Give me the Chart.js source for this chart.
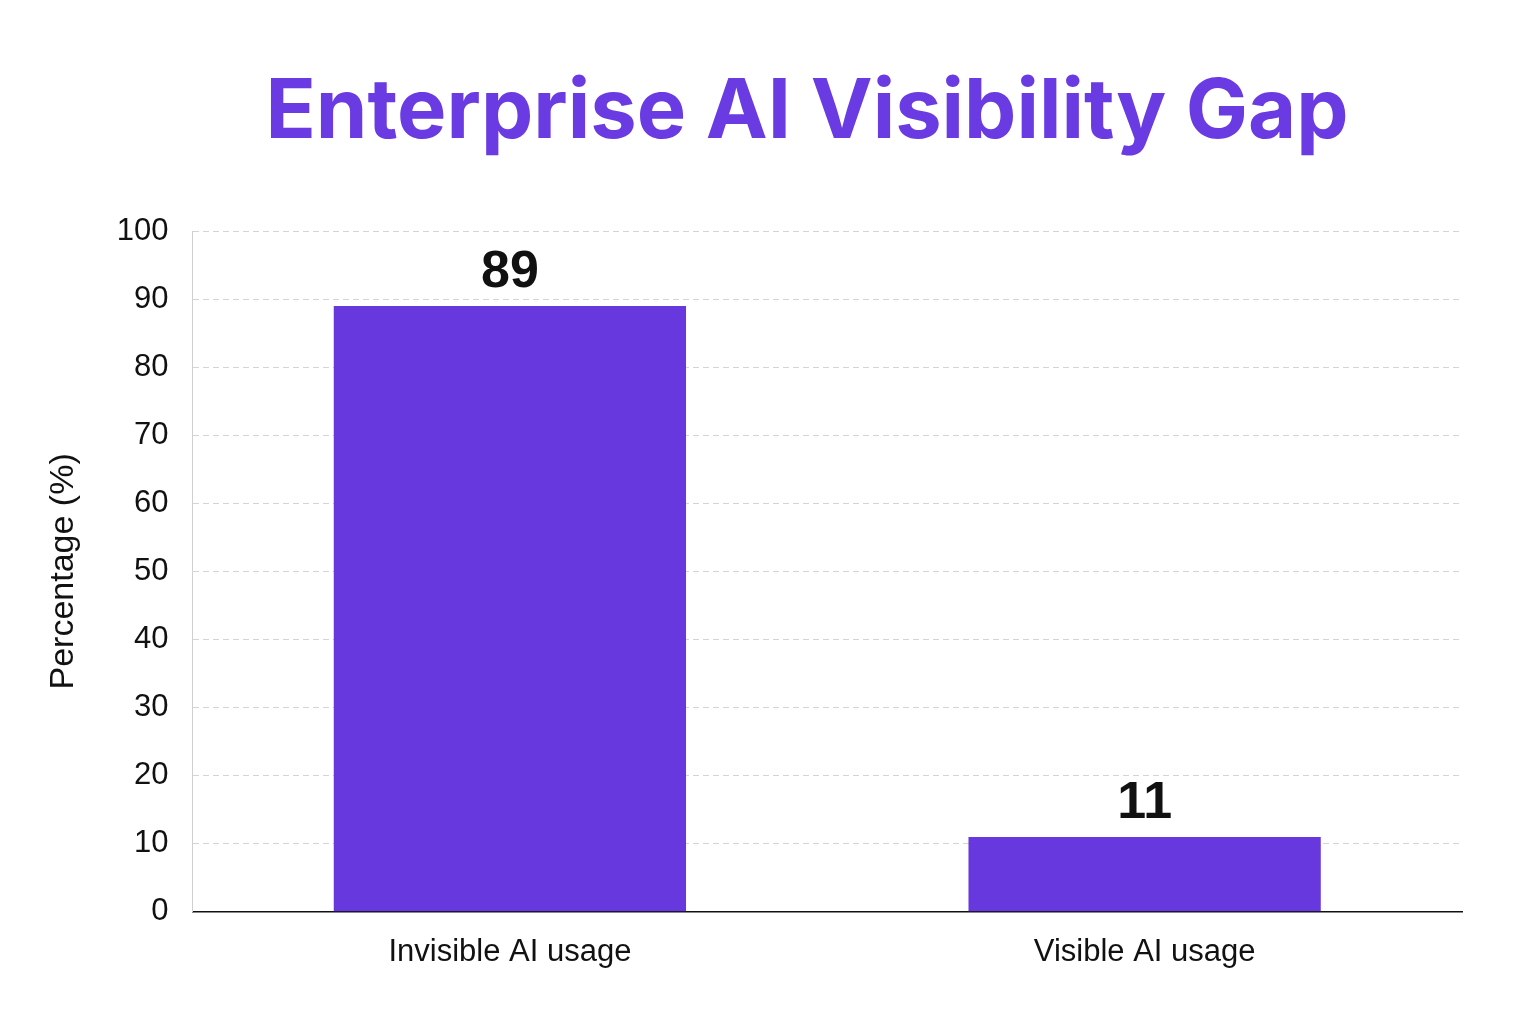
<!DOCTYPE html>
<html>
<head>
<meta charset="utf-8">
<title>Enterprise AI Visibility Gap</title>
<script src="https://cdn.jsdelivr.net/npm/chart.js@4.4.1/dist/chart.umd.min.js"></script>
<style>
  html, body { margin: 0; padding: 0; background: #fff; }
  #wrap { position: relative; width: 1536px; height: 1024px; }
  #title {
    position: absolute; left: 0; top: 67px; width: 1536px;
    box-sizing: border-box; padding-left: 78px;
    text-align: center; font-family: Inter, sans-serif; font-weight: 700;
    font-size: 83px; line-height: 1; color: #6a3be2;
  }
  canvas { position: absolute; left: 0; top: 0; }
</style>
</head>
<body>
<div id="wrap">
  <canvas id="gapChart" width="1536" height="1024"></canvas>
  <div id="title">Enterprise AI Visibility Gap</div>
</div>
<script>
// Chart data
const categories = ['Invisible AI usage', 'Visible AI usage'];
const percentages = [89, 11];
const yTicks = [0, 10, 20, 30, 40, 50, 60, 70, 80, 90, 100];

const barColor = '#6738de';
const fontFamily = '"Liberation Sans", Arial, sans-serif';

// Draw the value above each bar
const valueLabels = {
  id: 'valueLabels',
  afterDatasetsDraw(chart) {
    const { ctx } = chart;
    const meta = chart.getDatasetMeta(0);
    ctx.save();
    ctx.font = 'bold 52px ' + fontFamily;
    ctx.fillStyle = '#111';
    ctx.textAlign = 'center';
    ctx.textBaseline = 'alphabetic';
    meta.data.forEach((bar, i) => {
      ctx.fillText(percentages[i], bar.x, bar.y - 19);
    });
    ctx.restore();
  }
};

const ctx = document.getElementById('gapChart').getContext('2d');
const gapChart = new Chart(ctx, {
  type: 'bar',
  data: {
    labels: categories,
    datasets: [{
      data: percentages,
      backgroundColor: barColor,
      borderWidth: 0,
      categoryPercentage: 1,
      barPercentage: 0.555
    }]
  },
  options: {
    responsive: false,
    animation: false,
    layout: { padding: { top: 231, left: 43, right: 74, bottom: 39 } },
    plugins: {
      legend: { display: false },
      tooltip: { enabled: false }
    },
    scales: {
      x: {
        grid: { display: false },
        border: { display: true, color: '#111', width: 1.5 },
        ticks: {
          color: '#111',
          padding: 14,
          font: { family: fontFamily, size: 31 }
        }
      },
      y: {
        min: 0,
        max: 100,
        afterBuildTicks(scale) {
          scale.ticks = yTicks.map(v => ({ value: v }));
        },
        grid: { color: '#d4d4d4', lineWidth: 1, drawTicks: false },
        border: { display: true, color: '#d0d0d0', dash: [6, 4] },
        ticks: {
          color: '#111',
          padding: 24,
          font: { family: fontFamily, size: 31 }
        },
        title: {
          display: true,
          text: 'Percentage (%)',
          color: '#111',
          padding: { top: 0, bottom: 9 },
          font: { family: fontFamily, size: 34 }
        }
      }
    }
  },
  plugins: [valueLabels]
});
</script>
</body>
</html>
